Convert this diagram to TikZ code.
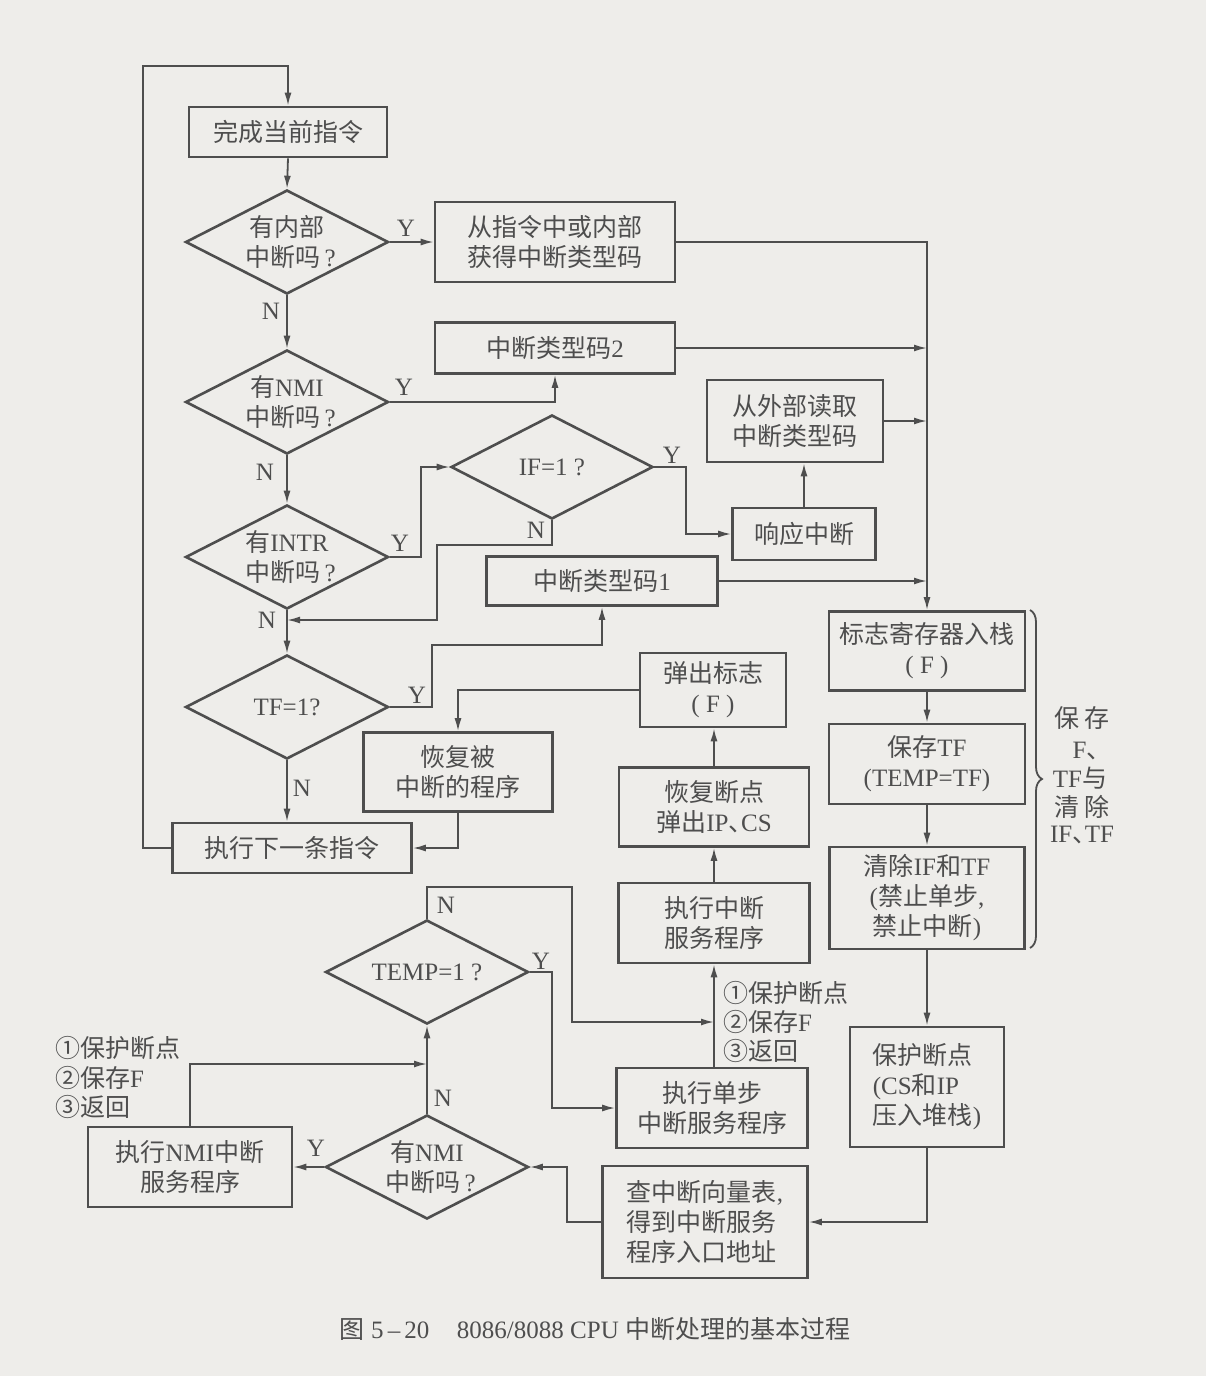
\documentclass[tikz,border=0pt]{standalone}
\usepackage{fontspec}
\setmainfont{Liberation Serif}
\newfontfamily\cjk{Noto Sans CJK SC}
\newfontfamily\cjkhalf[RawFeature=+halt]{Noto Sans CJK SC}
\usetikzlibrary{arrows.meta,shapes.geometric,decorations.pathreplacing}
\newcommand\zh[1]{{\cjk #1}}
% half-width enumeration comma between Latin words
\newcommand\dun{{\cjkhalf 、}}
\definecolor{ink}{RGB}{78,78,78}
\definecolor{paper}{RGB}{238,237,234}

\begin{document}
\begin{tikzpicture}[x=1pt,y=-1pt,
  every node/.style={text=ink, font=\fontsize{25}{30}\selectfont},
  box/.style={draw=ink, line width=2.6pt, inner sep=0pt, align=center},
  dia/.style={draw=ink, line width=2.6pt, shape=diamond, inner sep=0pt,
              minimum width=203pt, minimum height=104pt},
  dtext/.style={inner sep=0pt, align=center},
  yn/.style={inner sep=0pt},
  note/.style={inner sep=0pt, anchor=west},
  flow/.style={draw=ink, line width=1.8pt, -{Latex[length=13pt,width=7pt]}},
]
% page
\fill[paper] (0,0) rectangle (1206,1376);
\useasboundingbox (0,0) rectangle (1206,1376);

% ---------- main column ----------
\node[box, minimum width=198pt, minimum height=50pt] (b1) at (288,132) {\zh{完成当前指令}};
\node[dia] (d1) at (287,242) {};
\node[dtext] (d1t) at (d1.center) {\zh{有内部}\\\hspace{0.3em}\zh{中断吗}\hspace{0.15em}?};
\node[dia] (d2) at (287,402) {};
\node[dtext] (d2t) at (d2.center) {\zh{有}NMI\\\hspace{0.3em}\zh{中断吗}\hspace{0.15em}?};
\node[dia] (d3) at (287,557) {};
\node[dtext] (d3t) at (d3.center) {\zh{有}INTR\\\hspace{0.3em}\zh{中断吗}\hspace{0.15em}?};
\node[dia] (d4) at (287,707) {};
\node[dtext] (d4t) at (d4.center) {TF=1?};
\node[box, minimum width=239pt, minimum height=50pt] (b7) at (292,848) {\zh{执行下一条指令}};

% ---------- type code sources ----------
\node[box, minimum width=240pt, minimum height=80pt] (b2) at (555,242) {\zh{从指令中或内部}\\\zh{获得中断类型码}};
\node[box, minimum width=240pt, minimum height=51pt] (b3) at (555,348) {\zh{中断类型码}2};
\node[box, minimum width=176pt, minimum height=82pt] (b4) at (795,421) {\zh{从外部读取}\\\zh{中断类型码}};
\node[box, minimum width=143pt, minimum height=52pt] (b5) at (804,534) {\zh{响应中断}};
\node[dia, minimum width=202pt] (dif) at (552,467) {};
\node[dtext] (dift) at (dif.center) {IF=1 ?};
\node[box, minimum width=231pt, minimum height=49pt] (b6) at (602,581) {\zh{中断类型码}1};

% ---------- return path ----------
\node[box, minimum width=189pt, minimum height=79pt] (b8) at (458,772) {\zh{恢复被}\\\zh{中断的程序}};
\node[box, minimum width=146pt, minimum height=74pt] (b9) at (713,690) {\zh{弹出标志}\\( F )};
\node[box, minimum width=190pt, minimum height=79pt] (b10) at (714,807) {\zh{恢复断点}\\\zh{弹出}IP\dun CS};
\node[box, minimum width=191pt, minimum height=80pt] (b11) at (714,923) {\zh{执行中断}\\\zh{服务程序}};
\node[box, minimum width=191pt, minimum height=80pt] (b12) at (712,1108) {\zh{执行单步}\\\zh{中断服务程序}};
\node[box, minimum width=205pt, minimum height=112pt, align=left] (b14) at (705,1222) {\zh{查中断向量表},\\\zh{得到中断服务}\\\zh{程序入口地址}};

% ---------- NMI / single step check ----------
\node[dia] (dt) at (427,972) {};
\node[dtext] (dtt) at (dt.center) {TEMP=1 ?};
\node[dia] (dn) at (427,1167) {};
\node[dtext] (dnt) at (dn.center) {\zh{有}NMI\\\hspace{0.3em}\zh{中断吗}\hspace{0.15em}?};
\node[box, minimum width=204pt, minimum height=80pt] (b13) at (190,1167) {\zh{执行}NMI\zh{中断}\\\zh{服务程序}};

% ---------- right column ----------
\node[box, minimum width=196pt, minimum height=79pt] (b15) at (927,651) {\zh{标志寄存器入栈}\\( F )};
\node[box, minimum width=196pt, minimum height=80pt] (b16) at (927,764) {\zh{保存}TF\\(TEMP=TF)};
\node[box, minimum width=195pt, minimum height=102pt] (b17) at (927,898) {\zh{清除}IF\zh{和}TF\\(\zh{禁止单步},\\\zh{禁止中断})};
\node[box, minimum width=154pt, minimum height=120pt, align=left] (b18) at (927,1087) {\zh{保护断点}\\(CS\zh{和}IP\\\zh{压入堆栈})};

% brace and its note
\draw[ink, line width=1.8pt, decorate, decoration={brace, amplitude=12pt}] (1030,610) -- (1030,948);
\node[yn] (br1) at (1082,718) {\zh{保\,存}};
\node[yn] (br2) at (1092,751) {F\zh{、}};
\node[yn] (br3) at (1080,778) {TF\zh{与}};
\node[yn] (br4) at (1082,807) {\zh{清\,除}};
\node[yn] (br5) at (1082,835) {IF\dun TF};

% step notes
\node[note] (s1) at (723,993) {\zh{①保护断点}};
\node[note] (s2) at (723,1022) {\zh{②保存}F};
\node[note] (s3) at (723,1051) {\zh{③返回}};
\node[note] (m1) at (55,1048) {\zh{①保护断点}};
\node[note] (m2) at (55,1078) {\zh{②保存}F};
\node[note] (m3) at (55,1107) {\zh{③返回}};

% branch labels
\node[yn] (y1) at (406,228) {Y};
\node[yn] (n1) at (271,311) {N};
\node[yn] (y2) at (404,387) {Y};
\node[yn] (n2) at (265,472) {N};
\node[yn] (y3) at (400,543) {Y};
\node[yn] (n3) at (267,620) {N};
\node[yn] (yif) at (672,455) {Y};
\node[yn] (nif) at (536,530) {N};
\node[yn] (y4) at (417,695) {Y};
\node[yn] (n4) at (302,788) {N};
\node[yn] (ntp) at (446,905) {N};
\node[yn] (ytp) at (541,961) {Y};
\node[yn] (nnm) at (443,1098) {N};
\node[yn] (ynm) at (316,1148) {Y};

% junction points
\coordinate (lp) at (143,66);
\coordinate (jn) at (287,620);
\coordinate (ifn) at (437,545);
\coordinate (tfy) at (432,645);
\coordinate (tn) at (572,887);
\coordinate (tj) at (714,1022);
\coordinate (nj) at (427,1064);

% connectors
\draw[flow] (b7.west) -| (lp) -| (b1.north);
\draw[flow] (b1.south) -- (d1.north);
\draw[flow] (d1.east) -- (b2.west);
\draw[flow] (d1.south) -- (d2.north);
\draw[flow] (d2.east) -| (b3.south);
\draw[flow] (d2.south) -- (d3.north);
\draw[flow] (d3.east) -- ++(31,0) |- (dif.west);
\draw[flow] (dif.east) -- ++(32,0) |- (b5.west);
\draw[flow] (b5.north) -- (b5.north |- b4.south);
\draw[flow] (dif.south) |- (ifn) |- (jn);
\draw[flow] (d3.south) -- (d4.north);
\draw[flow] (d4.east) -| (tfy) -| (b6.south);
\draw[flow] (d4.south) -- (d4.south |- b7.north);
\draw[flow] (b9.west) -| (b8.north);
\draw[flow] (b8.south) |- (b7.east);
\draw[flow] (b10.north) -- (b9.south -| b10.north);
\draw[flow] (b11.north) -- (b10.south);
\draw[flow] (b12.north -| b11.south) -- (b11.south);
\draw[flow] (dt.north) |- (tn) |- (tj);
\draw[flow] (dt.east) -- ++(22,0) |- (b12.west);
\draw[flow] (dn.north) -- (dt.south);
\draw[flow] (dn.west) -- (b13.east);
\draw[flow] (b13.north) |- (nj);
\draw[flow] (b14.west) -- ++(-34,0) |- (dn.east);
\draw[flow] (b2.east) -| (b15.north);
\draw[flow] (b3.east) -- (b3.east -| b15.north);
\draw[flow] (b4.east) -- (b4.east -| b15.north);
\draw[flow] (b6.east) -- (b6.east -| b15.north);
\draw[flow] (b15.south) -- (b16.north);
\draw[flow] (b16.south) -- (b17.north);
\draw[flow] (b17.south) -- (b18.north);
\draw[flow] (b18.south) |- (b14.east);

% caption
\node (cap) at (595,1329) {\zh{图} 5\,–\,20\hspace{1.1em}8086/8088 CPU \zh{中断处理的基本过程}};
\end{tikzpicture}
\end{document}
